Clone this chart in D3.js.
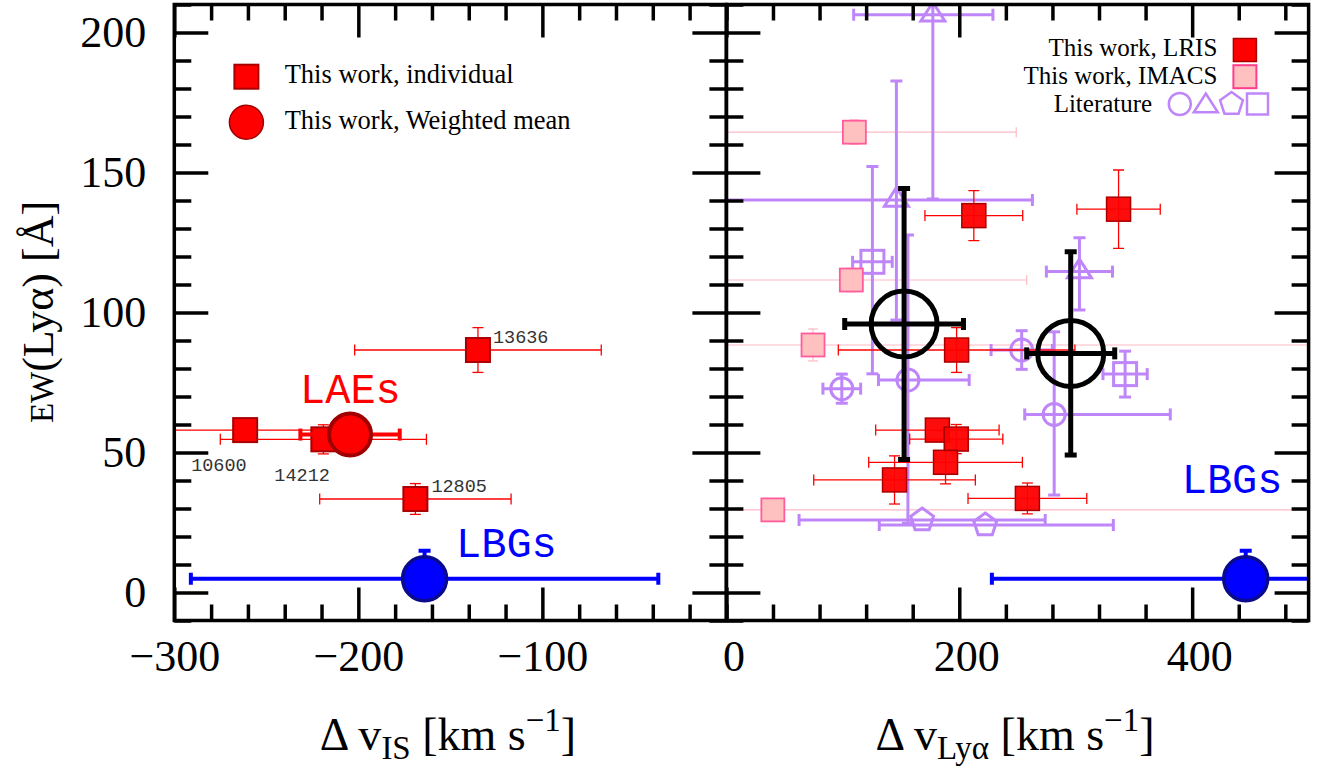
<!DOCTYPE html>
<html><head><meta charset="utf-8">
<script src="https://cdn.jsdelivr.net/npm/d3@7"></script>
<style>body{margin:0;background:#fff}svg{display:block;background:#fff}</style>
</head><body><svg id="c" width="1323" height="772"></svg>
<script>
// ---------------- DATA ----------------
// Left panel: LAEs, individual (this work)
const laeIds      = ["13636", "10600", "14212", "12805"];
const laeDvIS     = [-135, -261.5, -219, -169];
const laeDvISErr  = [67, 50, 56, 52];
const laeEW       = [86.6, 58, 54.7, 33.4];
const laeEWErr    = [8, 0, 5.2, 5.5];
// Left panel: weighted mean of LAEs
const laeMeanDvIS    = [-204.5];
const laeMeanDvISErr = [27];
const laeMeanEW      = [56.4];
// LBGs (both panels)
const lbgDvIS     = [-164];
const lbgDvISErr  = [127];
const lbgDvLya    = [446];
const lbgDvLyaErr = [218];
const lbgEW       = [4.9];
const lbgEWErrUp  = [10];
// Right panel: this work, LRIS
const lrisDvLya    = [197.7, 181.2, 197.4, 188.2, 144.4, 258.5, 212.5, 336.8];
const lrisDvLyaErr = [101.6, 53, 40, 66, 69.4, 51, 42, 35.8];
const lrisEW       = [86.6, 58, 54.8, 46.5, 40.2, 33.6, 134.6, 136.9];
const lrisEWErr    = [8, 0, 5.2, 7.7, 8.6, 5.5, 8.9, 14];
// Right panel: this work, IMACS
const imacsDvLya    = [109.9, 107.3, 74.4, 39.9];
const imacsDvLyaErr = [139, 150.6, 460, 470];
const imacsEW       = [164.4, 111.6, 88.4, 29.5];
const imacsEWErr    = [4.4, 4.2, 5.7, 0];
// Right panel: literature
const litShape       = ["circle","circle","circle","circle","triangle","triangle","triangle","pentagon","pentagon","square","square"];
const litDvLya       = [253.6, 155.9, 281.5, 99.1, 177.3, 146, 303.2, 168.1, 222.3, 125.4, 342.4];
const litDvLyaErrLo  = [26.3, 25.3, 25.3, 16.2, 68, 160, 28.4, 105.7, 91, 17, 19];
const litDvLyaErrHi  = [26.3, 52.6, 99.7, 16.2, 51.6, 116.8, 28.4, 105.7, 110, 17, 19];
const litEW          = [86.6, 75.9, 63.6, 72.8, 206.3, 140.2, 114.6, 25.9, 24.1, 118.1, 78];
const litEWErrLo     = [6.9, 51.2, 28.8, 5.2, 65.8, 42.9, 13.7, 0, 0, 40, 8.2];
const litEWErrHi     = [6.9, 51.8, 29.5, 5.2, 65.8, 42.5, 12.1, 0, 0, 34, 8.2];
// Right panel: means (black open circles)
const meanDvLya    = [152.6, 295.7];
const meanDvLyaErr = [51, 37.8];
const meanEW       = [95.9, 85.4];
const meanEWErr    = [48.4, 36.3];
// Axis ticks
const yMajor = [0, 50, 100, 150, 200];
const xLeftMajor = [-300, -200, -100];
const xRightMajor = [0, 200, 400];
// label offsets (px) for LAE ids
const laeLabelDx = [15, -54, -49, 16];
const laeLabelDy = [-7, 41, 42, -7];

// ---------------- LAYOUT ----------------
const svg = d3.select("#c");
const SERIF = "'Liberation Serif','Times New Roman',serif";
const MONO = "'Liberation Mono','DejaVu Sans Mono',monospace";
const yTop = 4.5, yBot = 620.5;
const y  = d3.scaleLinear().domain([-10, 210]).range([yBot, yTop]);
const xL = d3.scaleLinear().domain([-300, 0]).range([174.3, 726.4]);
const xR = d3.scaleLinear().domain([0, 500]).range([726.4, 1308.6]);

const PURPLE = "#bf86fa", PINKLINE = "#ffb9c4";
const defs = svg.append("defs");
function clip(id, x) {
  defs.append("clipPath").attr("id", id).append("rect")
    .attr("x", x.range()[0]).attr("y", yTop).attr("width", x.range()[1] - x.range()[0]).attr("height", yBot - yTop);
}
clip("clipL", xL); clip("clipR", xR);

function errorBar(g, x, px, py, xlo, xhi, ylo, yhi, st) {
  const X = x(px), Y = y(py);
  const line = (x1, y1, x2, y2, w) => g.append("line").attr("x1", x1).attr("y1", y1).attr("x2", x2).attr("y2", y2)
      .attr("stroke", st.color).attr("stroke-width", w);
  if (xlo > 0 || xhi > 0) {
    const a = x(px - xlo), b = x(px + xhi);
    line(a, Y, b, Y, st.w);
    if (xlo > 0) line(a, Y - st.cap, a, Y + st.cap, st.cw || st.w);
    if (xhi > 0) line(b, Y - st.cap, b, Y + st.cap, st.cw || st.w);
  }
  if (ylo > 0 || yhi > 0) {
    const a = y(py - ylo), b = y(py + yhi);
    line(X, a, X, b, st.w);
    if (ylo > 0) line(X - st.cap, a, X + st.cap, a, st.cw || st.w);
    if (yhi > 0) line(X - st.cap, b, X + st.cap, b, st.cw || st.w);
  }
}
function marker(g, shape, cx, cy, s) {
  let el;
  if (shape === "square") {
    el = g.append("rect").attr("x", cx - s.size / 2).attr("y", cy - s.size / 2).attr("width", s.size).attr("height", s.size);
  } else if (shape === "circle") {
    el = g.append("circle").attr("cx", cx).attr("cy", cy).attr("r", s.r);
  } else if (shape === "triangle") {
    el = g.append("path").attr("d", `M${cx},${cy - 12.5}L${cx + 12},${cy + 6.2}L${cx - 12},${cy + 6.2}Z`);
  } else if (shape === "pentagon") {
    const pts = d3.range(5).map(k => {
      const a = -Math.PI / 2 + k * 2 * Math.PI / 5;
      return [cx + 12 * Math.cos(a), cy + 12 * Math.sin(a)];
    });
    el = g.append("path").attr("d", "M" + pts.join("L") + "Z");
  }
  el.attr("fill", s.fill).attr("stroke", s.stroke).attr("stroke-width", s.sw);
  return el;
}

// ---------------- AXES ----------------
function axes(x, major, minorStep, showYLabels, labelDx) {
  const [x0, x1] = x.range();
  const d = x.domain();
  const minor = d3.range(d[0], d[1] + 0.001, minorStep).filter(v => !major.includes(v));
  const yMinor = d3.range(-10, 211, 10).filter(v => !yMajor.includes(v));
  const g = svg.append("g");
  const style = sel => {
    sel.select(".domain").remove();
    sel.selectAll("line").attr("stroke", "#000").attr("stroke-width", 3.5);
    sel.selectAll("text").attr("font-family", SERIF).attr("font-size", 44).attr("fill", "#000");
  };
  g.append("g").attr("transform", `translate(0,${yBot})`)
    .call(d3.axisBottom(x).tickValues(major).tickSizeInner(-33).tickSizeOuter(0).tickPadding(19)).call(style)
    .selectAll("text").attr("dx", labelDx);
  g.append("g").attr("transform", `translate(0,${yBot})`)
    .call(d3.axisBottom(x).tickValues(minor).tickSizeInner(-16).tickSizeOuter(0).tickFormat("")).call(style);
  g.append("g").attr("transform", `translate(0,${yTop})`)
    .call(d3.axisTop(x).tickValues(major).tickSizeInner(-33).tickSizeOuter(0).tickFormat("")).call(style);
  g.append("g").attr("transform", `translate(0,${yTop})`)
    .call(d3.axisTop(x).tickValues(minor).tickSizeInner(-16).tickSizeOuter(0).tickFormat("")).call(style);
  g.append("g").attr("transform", `translate(${x0},0)`)
    .call(d3.axisLeft(y).tickValues(yMajor).tickSizeInner(-34).tickSizeOuter(0).tickPadding(28)
      .tickFormat(showYLabels ? d3.format("d") : "")).call(style);
  g.append("g").attr("transform", `translate(${x0},0)`)
    .call(d3.axisLeft(y).tickValues(yMinor).tickSizeInner(-17).tickSizeOuter(0).tickFormat("")).call(style);
  g.append("g").attr("transform", `translate(${x1},0)`)
    .call(d3.axisRight(y).tickValues(yMajor).tickSizeInner(-34).tickSizeOuter(0).tickFormat("")).call(style);
  g.append("g").attr("transform", `translate(${x1},0)`)
    .call(d3.axisRight(y).tickValues(yMinor).tickSizeInner(-17).tickSizeOuter(0).tickFormat("")).call(style);
  g.append("rect").attr("x", x0).attr("y", yTop).attr("width", x1 - x0).attr("height", yBot - yTop)
    .attr("fill", "none").attr("stroke", "#000").attr("stroke-width", 3.5);
}

// ---------------- LEFT PANEL ----------------
const gL = svg.append("g").attr("clip-path", "url(#clipL)");
const redThin = {color: "#ff0000", w: 1.3, cap: 5.5};
laeIds.forEach((id, i) => {
  errorBar(gL, xL, laeDvIS[i], laeEW[i], laeDvISErr[i], laeDvISErr[i], laeEWErr[i], laeEWErr[i], redThin);
});
laeIds.forEach((id, i) => {
  marker(gL, "square", xL(laeDvIS[i]), y(laeEW[i]), {size: 24, fill: "#ff0000", stroke: "#a80000", sw: 2});
});
errorBar(gL, xL, laeMeanDvIS[0], laeMeanEW[0], laeMeanDvISErr[0], laeMeanDvISErr[0], 0, 0, {color: "#ff0000", w: 4, cap: 6});
marker(gL, "circle", xL(laeMeanDvIS[0]), y(laeMeanEW[0]), {r: 21, fill: "#ff0000", stroke: "#a00000", sw: 4});
errorBar(gL, xL, lbgDvIS[0], lbgEW[0], lbgDvISErr[0], lbgDvISErr[0], 0, lbgEWErrUp[0], {color: "#0000ff", w: 4, cap: 6});
marker(gL, "circle", xL(lbgDvIS[0]), y(lbgEW[0]), {r: 22, fill: "#0000ff", stroke: "#0a0a8c", sw: 3.5});

laeIds.forEach((id, i) => {
  svg.append("text").attr("x", xL(laeDvIS[i]) + laeLabelDx[i]).attr("y", y(laeEW[i]) + laeLabelDy[i])
    .attr("font-family", MONO).attr("font-size", 18.5).attr("fill", "#333").text(id);
});
svg.append("text").attr("x", 300).attr("y", 402.7).attr("font-family", MONO).attr("font-size", 42)
  .attr("fill", "#ff0000").text("LAEs");
svg.append("text").attr("x", 456).attr("y", 557.3).attr("font-family", MONO).attr("font-size", 42)
  .attr("fill", "#0000ff").text("LBGs");

// left legend
marker(svg, "square", 246.4, 76.7, {size: 24, fill: "#ff0000", stroke: "#a80000", sw: 2});
marker(svg, "circle", 246.4, 122.3, {r: 17, fill: "#ff0000", stroke: "#a00000", sw: 1.5});
svg.append("text").attr("x", 284.7).attr("y", 83.3).attr("font-family", SERIF).attr("font-size", 26.5).text("This work, individual");
svg.append("text").attr("x", 284.7).attr("y", 129).attr("font-family", SERIF).attr("font-size", 26.5).text("This work, Weighted mean");

// ---------------- RIGHT PANEL ----------------
const gR = svg.append("g").attr("clip-path", "url(#clipR)");
imacsDvLya.forEach((v, i) => {
  errorBar(gR, xR, v, imacsEW[i], imacsDvLyaErr[i], imacsDvLyaErr[i], imacsEWErr[i], imacsEWErr[i], {color: PINKLINE, w: 1.2, cap: 5});
});
const litSt = {color: PURPLE, w: 3, cap: 6};
litDvLya.forEach((v, i) => {
  errorBar(gR, xR, v, litEW[i], litDvLyaErrLo[i], litDvLyaErrHi[i], litEWErrLo[i], litEWErrHi[i], litSt);
});
litDvLya.forEach((v, i) => {
  marker(gR, litShape[i], xR(v), y(litEW[i]), {size: 23, r: 11, fill: "none", stroke: PURPLE, sw: 3});
});
imacsDvLya.forEach((v, i) => {
  marker(gR, "square", xR(v), y(imacsEW[i]), {size: 23, fill: "#ffc0c0", stroke: "#ff5c9d", sw: 1.8});
});
lrisDvLya.forEach((v, i) => {
  errorBar(gR, xR, v, lrisEW[i], lrisDvLyaErr[i], lrisDvLyaErr[i], lrisEWErr[i], lrisEWErr[i], redThin);
});
lrisDvLya.forEach((v, i) => {
  marker(gR, "square", xR(v), y(lrisEW[i]), {size: 24, fill: "#ff0000", stroke: "#a80000", sw: 1.5}).attr("fill-opacity", 0.95);
});
meanDvLya.forEach((v, i) => {
  errorBar(gR, xR, v, meanEW[i], meanDvLyaErr[i], meanDvLyaErr[i], meanEWErr[i], meanEWErr[i], {color: "#000", w: 5, cap: 6, cw: 5});
  marker(gR, "circle", xR(v), y(meanEW[i]), {r: 33, fill: "none", stroke: "#000", sw: 5});
});
errorBar(gR, xR, lbgDvLya[0], lbgEW[0], lbgDvLyaErr[0], lbgDvLyaErr[0], 0, lbgEWErrUp[0], {color: "#0000ff", w: 4, cap: 6});
marker(gR, "circle", xR(lbgDvLya[0]), y(lbgEW[0]), {r: 22, fill: "#0000ff", stroke: "#0a0a8c", sw: 3.5});
svg.append("text").attr("x", 1181.7).attr("y", 493.3).attr("font-family", MONO).attr("font-size", 42)
  .attr("fill", "#0000ff").text("LBGs");

// right legend
svg.append("text").attr("x", 1217.3).attr("y", 56).attr("text-anchor", "end").attr("font-family", SERIF).attr("font-size", 25).text("This work, LRIS");
svg.append("text").attr("x", 1217.3).attr("y", 83.5).attr("text-anchor", "end").attr("font-family", SERIF).attr("font-size", 25).text("This work, IMACS");
svg.append("text").attr("x", 1152.2).attr("y", 111.5).attr("text-anchor", "end").attr("font-family", SERIF).attr("font-size", 25).text("Literature");
marker(svg, "square", 1244.9, 50, {size: 23, fill: "#ff0000", stroke: "#a80000", sw: 1.5});
marker(svg, "square", 1244.9, 76.7, {size: 23, fill: "#ffc0c0", stroke: "#ff3d8b", sw: 2});
["circle", "triangle", "pentagon", "square"].forEach((s, k) => {
  marker(svg, s, [1179.8, 1205.8, 1231.5, 1257.5][k], [104, 106, 104, 104][k], {size: 21, r: 11, fill: "none", stroke: PURPLE, sw: 2.5});
});

// axes on top
axes(xL, xLeftMajor, 20, true, 0);
axes(xR, xRightMajor, 40, false, 7);

// ---------------- AXIS TITLES ----------------
function xTitle(cx, sub) {
  const t = svg.append("text").attr("x", cx).attr("y", 750).attr("text-anchor", "middle")
    .attr("font-family", SERIF).attr("font-size", 46).attr("fill", "#000");
  t.append("tspan").text("\u0394 v");
  t.append("tspan").attr("font-size", 33).attr("dy", 9).text(sub);
  t.append("tspan").attr("dy", -9).text(" [km s");
  t.append("tspan").attr("font-size", 33).attr("dy", -19).text("\u22121");
  t.append("tspan").attr("dy", 19).text("]");
}
xTitle(448, "IS");
xTitle(1015, "Ly\u03b1");
const yt = svg.append("text").attr("transform", "translate(53,312) rotate(-90)").attr("text-anchor", "middle")
  .attr("font-family", SERIF).attr("font-size", 44).attr("fill", "#000");
yt.append("tspan").attr("font-size", 33).text("EW");
yt.append("tspan").text("(Ly\u03b1) [\u00c5]");
</script></body></html>
